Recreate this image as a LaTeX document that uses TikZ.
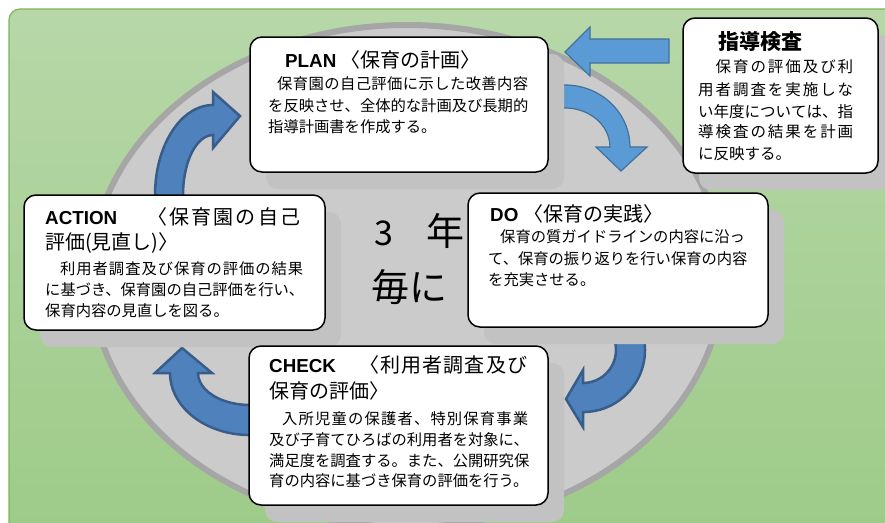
\documentclass[tikz,border=0pt]{standalone}
\usepackage{fontspec}
\setmainfont{Noto Sans CJK JP}
\newfontfamily\lat{Liberation Sans}
\definecolor{bgtop}{HTML}{B7D7A8}
\definecolor{bgbot}{HTML}{9DCB88}
\definecolor{bgline}{HTML}{7AB55C}
\definecolor{ringc}{HTML}{A6A6A6}
\definecolor{ellfill}{HTML}{CBCBCB}
\definecolor{shadowc}{HTML}{C2C2C2}
\definecolor{lblue}{HTML}{5B9BD5}
\definecolor{lblueb}{HTML}{41719C}
\definecolor{dblue}{HTML}{4F81BD}
\definecolor{dblueb}{HTML}{385D8A}
\newcommand\bodyf{\fontsize{15.3}{18}\selectfont}
\newcommand\ttlf{\fontsize{20}{24}\selectfont}
\newcommand\latf{\lat\bfseries\fontsize{18.8}{22}\selectfont}
\def\jstA#1{#1\jstB}
\def\jstB#1{\ifx\relax#1\else\hfil#1\expandafter\jstB\fi}
\newcommand\jst[2]{\hbox to #1{\jstA#2\relax}}
\begin{document}
\begin{tikzpicture}[x=1pt,y=-1pt,
  box/.style={draw=black, line width=1.5pt, fill=white, rounded corners=12pt, inner sep=0pt},
  shad/.style={fill=shadowc, rounded corners=12pt, inner sep=0pt},
  txt/.style={anchor=base west, inner sep=0pt, font=\bodyf},
  ttl/.style={anchor=base west, inner sep=0pt, font=\ttlf},
  larrow/.style={fill=lblue, draw=lblueb, line width=1.2pt, line join=miter},
  darrow/.style={fill=dblue, draw=dblueb, line width=2.5pt, line join=miter}]
\useasboundingbox (0,0) rectangle (885,522);
\clip (0,0) rectangle (885,522);
\fill[white] (0,0) rectangle (885,522);
% background
\draw[bgline, line width=1.2pt, top color=bgtop, bottom color=bgbot, rounded corners=11pt] (9,9) rectangle (900,540);
% ellipse
\draw[ringc, line width=6pt, fill=ellfill] (407,276) ellipse [x radius=316, y radius=251];
% arrows
\draw[larrow] (669,39) -- (590,39) -- (590,27) -- (565,52) -- (590,76) -- (590,63) -- (669,63) -- cycle;
\draw[larrow] (553.7,85.9) arc[start angle=-100, end angle=0, x radius=65, y radius=62]
  -- (647,147) -- (621,171) -- (596,147) -- (610,147)
  arc[start angle=0, end angle=-100, x radius=45, y radius=39] -- cycle;
\draw[darrow] (642.9,334) arc[start angle=-15, end angle=90, radius=62]
  -- (583,427) -- (566,399) -- (583,370) -- (583,383)
  arc[start angle=90, end angle=-15, radius=33] -- cycle;
\draw[darrow] (263.9,434.1) arc[start angle=80, end angle=180, x radius=80, y radius=62]
  -- (155,373) -- (182,348) -- (212,373) -- (198,373)
  arc[start angle=180, end angle=80, x radius=52, y radius=32] -- cycle;
\draw[darrow] (155.9,210.6) arc[start angle=170, end angle=270, x radius=58, y radius=90]
  -- (213,92) -- (240,116) -- (213,148) -- (213,135)
  arc[start angle=270, end angle=170, x radius=30, y radius=60] -- cycle;
% shadows
\node[shad, minimum width=298pt, minimum height=135pt] (plan-sh) at (415,121.5) {};
\node[shad, minimum width=195pt, minimum height=155pt] (sido-sh) at (796.5,112.5) {};
\node[shad, minimum width=301pt, minimum height=135pt] (act-sh) at (190.5,279.5) {};
\node[shad, minimum width=300pt, minimum height=134pt] (do-sh) at (634,277) {};
\node[shad, minimum width=299pt, minimum height=159pt] (chk-sh) at (414.5,442.5) {};
% boxes
\node[box, minimum width=298pt, minimum height=135pt] (plan) at (399,104.5) {};
\node[box, minimum width=195pt, minimum height=155pt] (sido) at (780.5,95.5) {};
\node[box, minimum width=301pt, minimum height=135pt] (act) at (174.5,262.5) {};
\node[box, minimum width=300pt, minimum height=134pt] (do) at (618,260) {};
\node[box, minimum width=299pt, minimum height=159pt] (chk) at (398.5,425.5) {};
% PLAN text
\node[ttl] (plan-t) at (285,67) {{\latf PLAN} 〈保育の計画〉};
\node[txt] (plan-1) at (277,89.5) {\jst{251pt}{保育園の自己評価に示した改善内容}};
\node[txt] (plan-2) at (268,111) {を反映させ、全体的な計画及び長期的};
\node[txt] (plan-3) at (268,132.5) {指導計画書を作成する。};
% 指導検査 text
\node[ttl, font=\fontsize{21}{24}\selectfont\bfseries] (sido-t) at (718,49) {指導検査};
\node[txt, font=\fontsize{15.5}{18}\selectfont] (sido-1) at (698,72.4) {\jst{155pt}{　保育の評価及び利}};
\node[txt, font=\fontsize{15.5}{18}\selectfont] (sido-2) at (698,95) {\jst{155pt}{用者調査を実施しな}};
\node[txt, font=\fontsize{15.5}{18}\selectfont] (sido-3) at (698,117) {\jst{155pt}{い年度については、指}};
\node[txt, font=\fontsize{15.5}{18}\selectfont] (sido-4) at (698,137.5) {\jst{155pt}{導検査の結果を計画}};
\node[txt, font=\fontsize{15.5}{18}\selectfont] (sido-5) at (698,159.4) {に反映する。};
% ACTION text
\node[ttl] (act-t1) at (45,224) {\hbox to 255pt{{\latf ACTION}\hfil\jst{153pt}{〈保育園の自己}}};
\node[ttl] (act-t2) at (45,249.5) {評価(見直し)〉};
\node[txt] (act-1) at (60,274.3) {\jst{243pt}{利用者調査及び保育の評価の結果}};
\node[txt] (act-2) at (45,295.8) {に基づき、保育園の自己評価を行い、};
\node[txt] (act-3) at (45,316.8) {保育内容の見直しを図る。};
% DO text
\node[ttl] (do-t) at (490,221) {{\latf DO}\hspace{5pt}〈保育の実践〉};
\node[txt] (do-1) at (500,242) {保育の質ガイドラインの内容に沿っ};
\node[txt] (do-2) at (488,264) {て、保育の振り返りを行い保育の内容};
\node[txt] (do-3) at (488,285.5) {を充実させる。};
% CHECK text
\node[ttl] (chk-t1) at (269,372.6) {\hbox to 258pt{{\latf CHECK}\hfil\jst{168pt}{〈利用者調査及び}}};
\node[ttl] (chk-t2) at (269,398.6) {保育の評価〉};
\node[txt] (chk-1) at (282,424.3) {\jst{246pt}{入所児童の保護者、特別保育事業}};
\node[txt] (chk-2) at (269,445.8) {及び子育てひろばの利用者を対象に、};
\node[txt] (chk-3) at (269,466.3) {満足度を調査する。また、公開研究保};
\node[txt] (chk-4) at (269,486.3) {育の内容に基づき保育の評価を行う。};
% centre text
\node[anchor=base west, inner sep=0pt, font=\fontsize{34}{34}\selectfont] (c3) at (374,245) {3};
\node[anchor=base west, inner sep=0pt, font=\fontsize{38}{38}\selectfont] (cnen) at (426,245) {年};
\node[anchor=base west, inner sep=0pt, font=\fontsize{38}{38}\selectfont] (cmai) at (371,301) {毎に};
\end{tikzpicture}
\end{document}
